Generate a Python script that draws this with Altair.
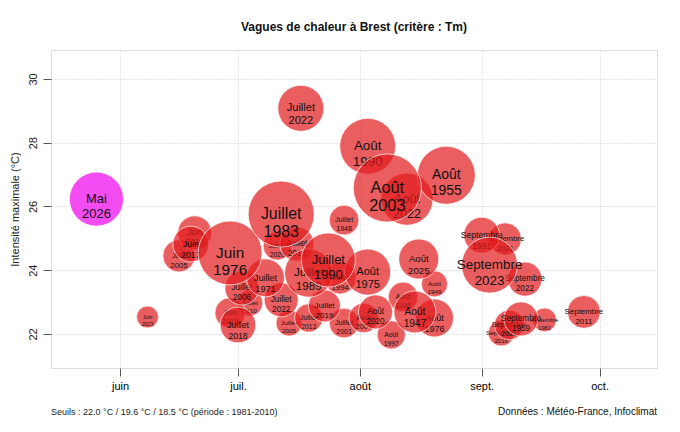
import altair as alt
import pandas as pd

# ---- data ----
mois = ["Mai", "Juin", "Juin", "Juin", "Juin", "Juin", "Juillet", "Juillet", "Août", "Août",
        "Août", "Août", "Juillet", "Juillet", "Juillet", "Août", "Juillet", "Juillet", "Juillet", "Juin",
        "Juillet", "Juillet", "Juillet", "Juillet", "Juillet", "Août", "Août", "Août", "Août", "Août",
        "Août", "Août", "Août", "Septembre", "Septembre", "Septembre", "Septembre", "Septembre", "Septembre", "Septembre",
        "Septembre", "Septembre", "Juillet", "Juillet", "Juillet", "Juillet"]
annees = [2026, 2023, 2005, 2022, 2017, 1976, 1983, 2022, 1990, 2003,
          2022, 1955, 1948, 1990, 1989, 1975, 1971, 2006, 2018, 2019,
          2022, 2005, 2013, 2019, 2001, 2020, 2004, 1997, 1947, 1976,
          2025, 1949, 1995, 2023, 1991, 2021, 2022, 2011, 1959, 1982,
          2020, 2016, 2020, 2015, 1994, 2010]
dates = ["05-26", "06-08", "06-16", "06-20", "06-19", "06-29", "07-12", "07-17", "08-03", "08-08",
         "08-13", "08-23", "07-28", "07-24", "07-19", "08-03", "07-08", "07-02", "07-01", "06-29",
         "07-12", "07-14", "07-19", "07-23", "07-28", "08-05", "08-02", "08-09", "08-15", "08-20",
         "08-16", "08-20", "08-12", "09-03", "09-01", "09-07", "09-12", "09-27", "09-11", "09-17",
         "09-08", "09-06", "07-11", "07-16", "07-27", "07-04"]
intensites = [26.23, 22.53, 24.45, 25.17, 24.82, 24.54, 25.76, 29.08, 27.89, 26.58,
              26.23, 26.98, 25.57, 24.32, 23.91, 23.94, 23.76, 23.44, 22.28, 22.66,
              23.07, 22.34, 22.50, 22.88, 22.34, 22.69, 22.50, 21.97, 22.69, 22.50,
              24.35, 23.57, 23.16, 24.16, 25.10, 24.98, 23.72, 22.69, 22.47, 22.44,
              22.28, 22.03, 24.76, 24.82, 23.76, 22.97]
severites = [73, 12, 26, 29, 32, 102, 109, 53, 78, 116,
             68, 84, 22, 73, 58, 53, 36, 29, 32, 23,
             29, 17, 20, 26, 22, 29, 22, 20, 44, 36,
             40, 17, 22, 78, 32, 26, 29, 27, 29, 14,
             22, 17, 20, 29, 26, 17]

mois_ticks = ["juin", "juil.", "août", "sept.", "oct."]
dates_ticks = ["06-01", "07-01", "08-01", "09-01", "10-01"]

titre = "Vagues de chaleur à Brest (critère : Tm)"
note_gauche = "Seuils : 22.0 °C / 19.6 °C / 18.5 °C (période : 1981-2010)"
note_droite = "Données : Météo-France, Infoclimat"

# ---- table ----
ref = pd.Timestamp("2001-06-01")
def jour(md):
    return (pd.Timestamp("2001-" + md) - ref).days

df = pd.DataFrame({
    "mois": mois, "annee": annees, "date": dates,
    "intensite": intensites, "severite": severites,
})
df["jour"] = [jour(d) for d in df["date"]]
df["label"] = df["mois"] + "\n" + df["annee"].astype(str)
df["en_cours"] = df["annee"] == 2026
df = df.sort_values("severite", kind="stable").reset_index(drop=True)
df["ordre"] = range(len(df))

tick_days = [jour(d) for d in dates_ticks]
label_expr = "{" + ",".join(f"'{d}':'{m}'" for d, m in zip(tick_days, mois_ticks)) + "}[datum.value]"

W, H = 606, 318
FONT = "Liberation Sans"

x_enc = alt.X("jour:Q", scale=alt.Scale(domain=[-17.56, 136.6], nice=False, zero=False),
              axis=alt.Axis(values=tick_days, labelExpr=label_expr, title=None,
                            domain=False, tickSize=8, tickColor="#555", labelPadding=4,
                            labelFontSize=11, labelColor="#000", labelFont=FONT,
                            grid=True, gridDash=[1, 2], gridColor="#cccccc"))
y_enc = alt.Y("intensite:Q", scale=alt.Scale(domain=[20.93, 30.91], nice=False, zero=False),
              axis=alt.Axis(values=[22, 24, 26, 28, 30], labelAngle=270, labelAlign="center",
                            labelBaseline="bottom", domain=False, tickSize=8, tickColor="#555",
                            labelPadding=5, labelFontSize=11, labelColor="#222", labelFont=FONT,
                            grid=True, gridDash=[1, 2], gridColor="#cccccc",
                            title="Intensité maximale (°C)", titleFont=FONT, titleFontSize=11,
                            titleFontWeight="normal", titleColor="#222",
                            titleX=-31, titleY=H / 2, titleAngle=270, titleAlign="center",
                            titleBaseline="bottom"))
size_enc = alt.Size("severite:Q", scale=alt.Scale(domain=[0, 100], range=[0, 4000]), legend=None)
color_enc = alt.Color("en_cours:N", scale=alt.Scale(domain=[False, True], range=["#E31A1C", "#EE00EE"]),
                      legend=None)
tsize_enc = alt.Size("severite:Q", scale=alt.Scale(type="sqrt", domain=[0, 100], range=[0, 15.2]),
                     legend=None)

base = alt.Chart(df)
layers = []
for i in range(len(df)):
    sub = base.transform_filter(alt.datum.ordre == i)
    layers.append(sub.mark_circle(opacity=1, fillOpacity=0.7, stroke="white", strokeWidth=0.8,
                                  strokeOpacity=0.85)
                  .encode(x=x_enc, y=y_enc, size=size_enc, color=color_enc))
    layers.append(sub.mark_text(lineBreak="\n", font=FONT, color="#111", align="center",
                                baseline="middle")
                  .encode(x=x_enc, y=y_enc, text="label:N", size=tsize_enc))

notes = pd.DataFrame({"g": [note_gauche], "d": [note_droite]})
layers.append(alt.Chart(notes).mark_text(font=FONT, fontSize=9, color="#222", align="left",
                                         baseline="middle")
              .encode(x=alt.value(0), y=alt.value(H + 44), text="g:N"))
layers.append(alt.Chart(notes).mark_text(font=FONT, fontSize=10, color="#111", align="right",
                                         baseline="middle")
              .encode(x=alt.value(W), y=alt.value(H + 44), text="d:N"))

chart = alt.layer(*layers).resolve_scale(size="independent").properties(
    width=W, height=H,
    title=alt.TitleParams(titre, font=FONT, fontSize=12, fontWeight="bold", color="#111",
                          anchor="middle", offset=16),
    autosize=alt.AutoSizeParams(type="none"),
    padding={"left": 43, "top": 42, "right": 15, "bottom": 50},
).configure_view(stroke="#555", strokeWidth=1).configure(background="white")

chart.save("out.html", embed_options={"renderer": "svg", "actions": False})
